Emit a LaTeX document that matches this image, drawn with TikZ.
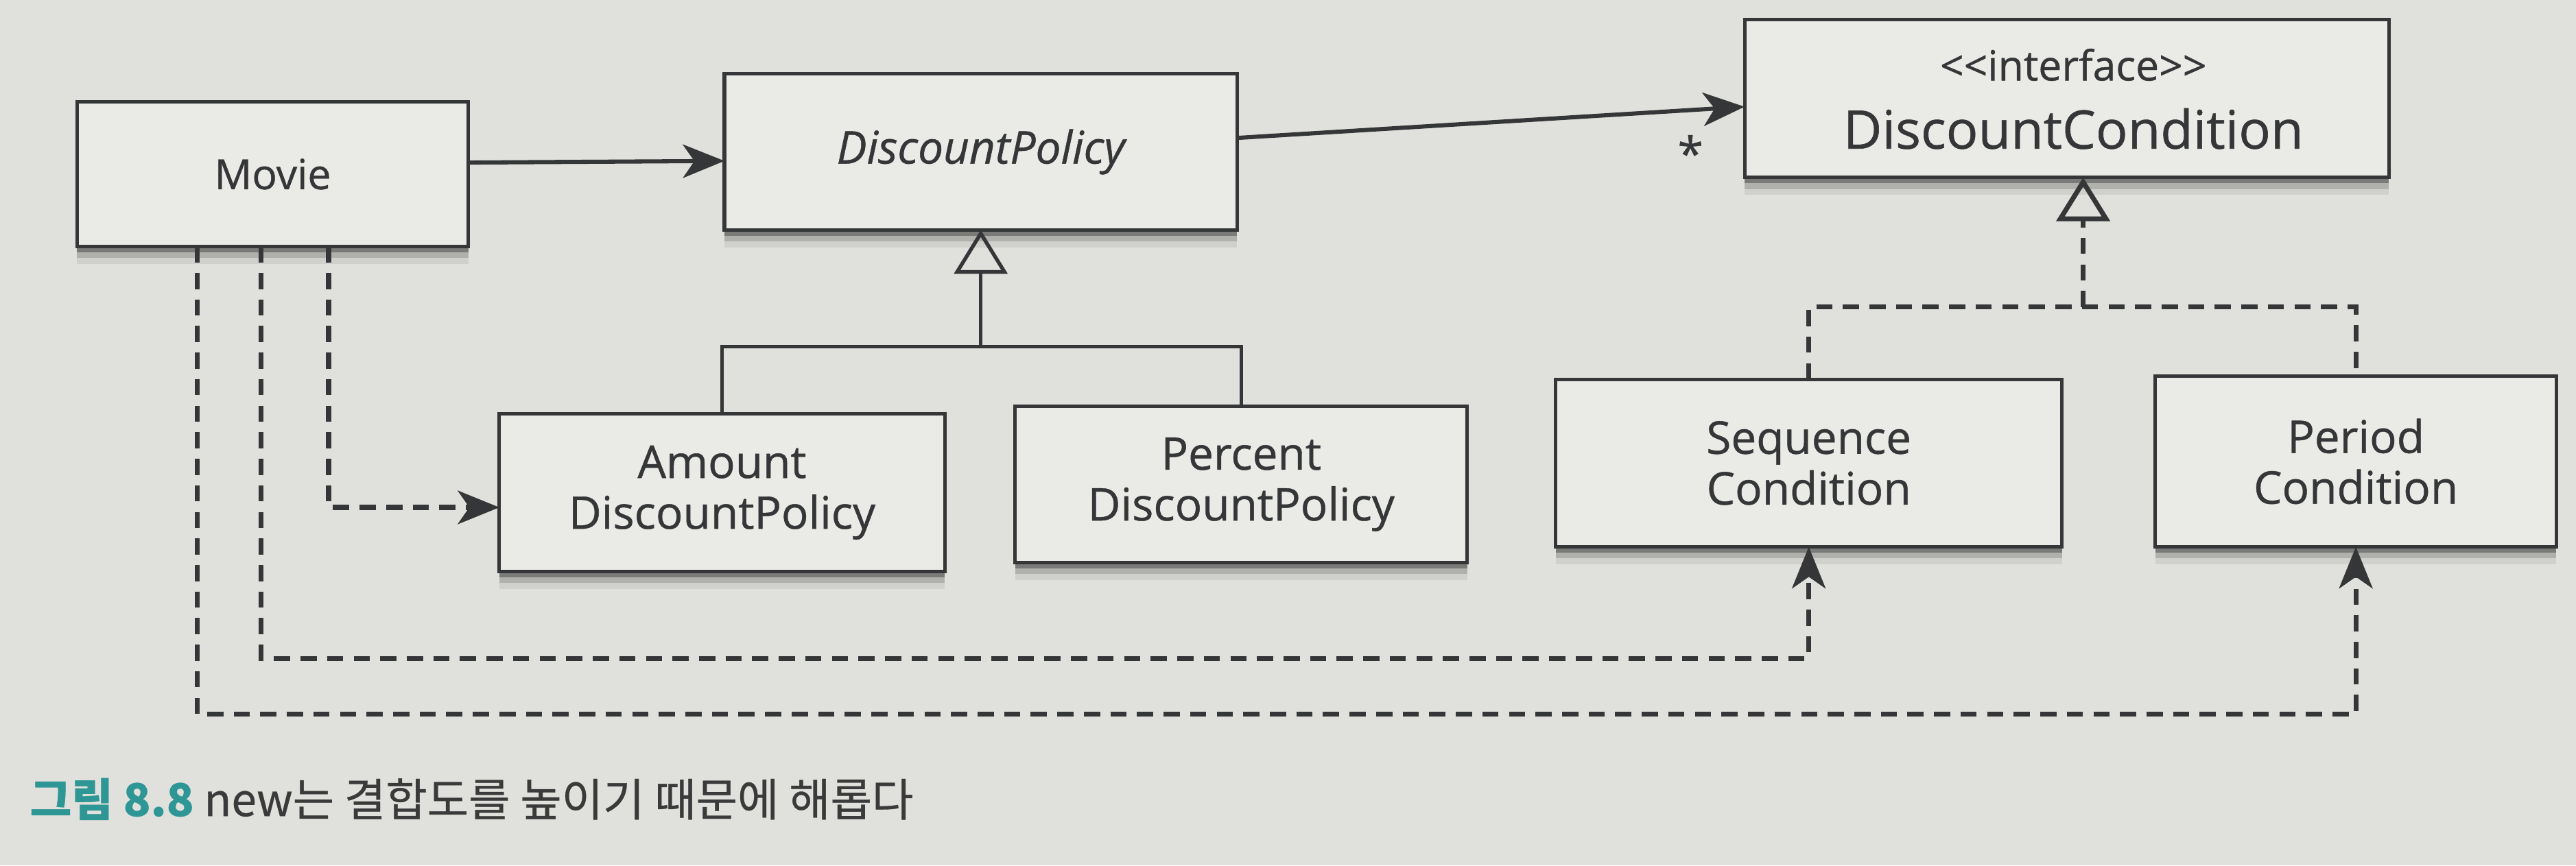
\documentclass[tikz,border=0pt]{standalone}
\usepackage{fontspec}
\setmainfont{Open Sans}[FakeBold=0.7]
\newfontfamily\krfont{Noto Sans CJK KR}[FakeBold=0.5]
\usetikzlibrary{arrows.meta,shadows}

\definecolor{paper}{RGB}{224,224,220}
\definecolor{boxfill}{RGB}{234,234,231}
\definecolor{ink}{RGB}{52,54,55}
\definecolor{capteal}{RGB}{46,150,148}
\definecolor{captext}{RGB}{58,58,58}

\tikzset{
  boxshadow/.style={
    drop shadow={shadow xshift=0pt, shadow yshift=-2.5pt, opacity=0.30, fill=black},
    drop shadow={shadow xshift=0pt, shadow yshift=-5pt, opacity=0.15, fill=black},
    drop shadow={shadow xshift=0pt, shadow yshift=-7.5pt, opacity=0.07, fill=black}},
  umlbox/.style={draw=ink, fill=boxfill, line width=1.5pt, inner sep=0pt,
    outer sep=0pt, align=center, text=ink,
    font=\fontsize{19.5pt}{22pt}\selectfont, boxshadow},
  boxlabel/.style={inner sep=0pt, text=ink},
  headtip/.tip={Stealth[length=18pt, width=14.5pt, inset=5pt]},
  opentri/.tip={Triangle[open, length=19pt, width=23pt]},
  assoc/.style={draw=ink, line width=1.8pt, -headtip},
  solidline/.style={draw=ink, line width=1.6pt},
  dashline/.style={draw=ink, line width=2.1pt, dash pattern=on 7pt off 4.5pt},
  dep/.style={dashline, -headtip},
}

\begin{document}
\begin{tikzpicture}[x=0.025cm, y=-0.025cm]
  \useasboundingbox (0,0) rectangle (1568,527);
  \fill[paper] (0,0) rectangle (1568,527);

  % classes
  \node[umlbox, minimum width=5.95cm, minimum height=2.2cm, font=\fontsize{18pt}{22pt}\selectfont]
    (movie) at (166,106) {Movie};
  \node[umlbox, minimum width=7.8cm, minimum height=2.375cm]
    (dp) at (597,92.5) {\itshape DiscountPolicy};
  \node[umlbox, minimum width=9.8cm, minimum height=2.4cm]
    (dc) at (1258,60) {};
  \node[boxlabel, anchor=base, font=\fontsize{18pt}{20pt}\selectfont]
    (dcstereo) at (1262,49) {<\kern0pt<interface>\kern0pt>};
  \node[boxlabel, anchor=base, font=\fontsize{23pt}{27pt}\selectfont]
    (dcname) at (1262,90.5) {DiscountCondition};

  \node[umlbox, minimum width=6.775cm, minimum height=2.4cm]
    (amount) at (439.5,300) {Amount\\DiscountPolicy};
  \node[umlbox, minimum width=6.875cm, minimum height=2.375cm]
    (percent) at (755.5,295) {Percent\\DiscountPolicy};
  \node[umlbox, minimum width=7.7cm, minimum height=2.55cm]
    (seq) at (1101,282) {Sequence\\Condition};
  \node[umlbox, minimum width=6.1cm, minimum height=2.6cm]
    (period) at (1434,281) {Period\\Condition};

  % associations
  \draw[assoc] ([yshift=0.175cm]movie.east) -- ([yshift=-0.1375cm]dp.west);
  \draw[assoc] ([yshift=0.2125cm]dp.east) -- ([yshift=-0.125cm]dc.west);
  \node[boxlabel, font=\fontsize{20pt}{22pt}\selectfont] (mult) at (1029,93) {*};

  % generalization
  \coordinate (genhub) at (597,211);
  \draw[solidline] (amount.north) |- (genhub) -| (percent.north);
  \draw[solidline, -opentri] (genhub) -- (dp.south);

  % realization
  \coordinate (realhub) at (1268,187);
  \draw[dashline] (seq.north) |- (realhub) -| (period.north);
  \draw[dashline, -opentri] (realhub) -- (realhub |- dc.south);

  % dependencies created by Movie
  \coordinate (seqturn) at (1101,401);
  \coordinate (periodturn) at (1434,435);
  \draw[dep] ([xshift=0.85cm]movie.south) |- ([yshift=-0.225cm]amount.west);
  \draw[dep] ([xshift=-0.175cm]movie.south) |- (seqturn) -- (seq.south);
  \draw[dep] ([xshift=-1.15cm]movie.south) |- (periodturn) -- (period.south);

  % caption
  \node[anchor=base west, inner sep=0pt, text=captext,
        font=\krfont\fontsize{19.5pt}{23pt}\selectfont]
    (caption) at (18,497)
    {{\bfseries\color{capteal}그림 8.8} new는 결합도를 높이기 때문에 해롭다};
\end{tikzpicture}
\end{document}
